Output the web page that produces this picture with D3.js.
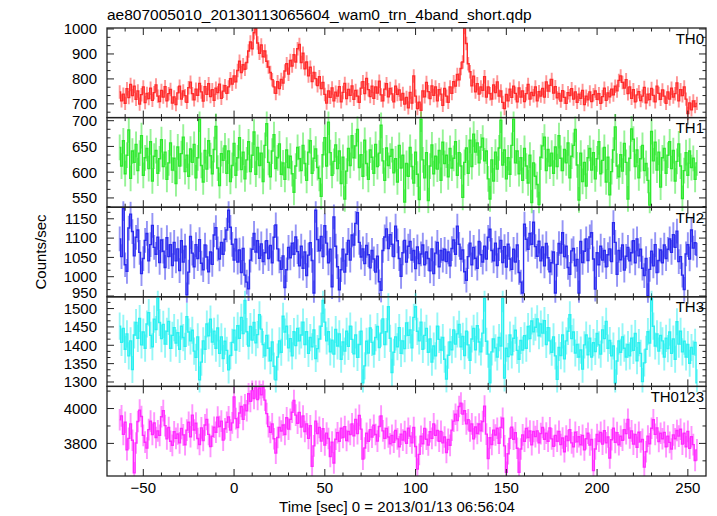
<!DOCTYPE html>
<html><head><meta charset="utf-8">
<script src="https://cdn.jsdelivr.net/npm/d3@7"></script>
<style>body{margin:0;background:#fff}svg{display:block}text{font-family:"Liberation Sans",Arial,Helvetica,sans-serif;fill:#000}</style>
</head><body><svg id="c" width="717" height="516"></svg>
<script>
const title = "ae807005010_20130113065604_wam0_trn_4band_short.qdp";
const xLabel = "Time [sec] 0 = 2013/01/13 06:56:04";
const yLabel = "Counts/sec";
const categories = ["TH0", "TH1", "TH2", "TH3", "TH0123"];
const tStart = -63, binSize = 1;
const xTicks = [-50, 0, 50, 100, 150, 200, 250];
const colors = ["#ff2a2a", "#2ee82e", "#2a2aee", "#2af0f0", "#ff2aff"];
const errHalf = [27, 25, 32, 37, 62];
const yDomains = [[645, 1004], [532, 706], [948, 1180], [1288, 1532], [3613, 4127]];
const yTicks = [[700, 800, 900, 1000], [550, 600, 650, 700], [950, 1000, 1050, 1100, 1150], [1300, 1350, 1400, 1450, 1500], [3800, 4000]];
const yMinorStep = [100/3, 50/3, 50/3, 50/3, 100];

const th0 = [748,712,739,702,761,725,778,733,771,718,
752,699,737,768,705,742,721,763,714,745,
776,731,709,754,727,769,712,741,758,703,
728,697,744,771,719,752,733,706,765,787,
741,716,759,734,782,748,711,769,738,781,
729,757,714,763,745,779,722,751,773,742,
768,801,779,812,788,834,871,826,857,839,
866,912,948,921,985,1001,944,903,936,889,
912,871,848,826,797,768,742,789,761,798,
783,832,861,819,874,852,897,868,921,938,
866,903,841,868,812,847,789,826,801,773,
809,761,786,738,703,752,726,764,712,747,
731,769,708,746,782,721,758,734,772,718,
754,731,706,763,789,741,802,757,729,771,
722,768,743,791,736,712,759,781,728,762,
740,708,771,738,756,715,742,699,726,684,
746,703,812,731,681,707,674,752,728,786,
749,721,772,734,768,712,757,739,694,762,
731,706,768,742,789,771,818,796,842,868,
1006,942,861,829,772,811,748,781,739,768,
754,809,727,768,741,719,776,745,788,731,
752,706,681,738,712,759,726,771,742,708,
764,727,752,709,741,778,719,746,733,768,
712,749,731,762,727,788,751,774,798,743,
769,724,742,711,753,726,702,745,733,761,
719,748,706,739,722,754,697,731,716,748,
709,737,752,718,741,702,729,763,714,744,
728,759,736,771,752,794,812,786,763,797,
741,768,722,757,708,736,749,713,731,766,
704,739,717,762,734,708,771,742,718,756,
731,702,748,719,763,727,741,784,712,757,
733,768,719,661,704,676,712,689,702];

const th1 = [648,612,661,597,633,682,588,641,619,654,
603,637,671,594,628,646,607,659,583,631,
642,598,626,663,611,639,586,618,657,604,
627,578,649,612,636,668,601,633,592,645,
619,654,589,628,703,613,581,642,606,661,
632,597,644,689,608,574,636,623,651,598,
641,582,613,656,594,628,667,605,639,587,
624,659,601,633,678,596,648,613,637,582,
652,694,619,591,641,673,607,628,655,596,
618,586,643,609,631,597,561,612,648,626,
603,652,617,584,639,661,598,627,645,609,
588,553,634,667,612,697,638,594,621,653,
607,641,578,629,548,602,646,613,671,628,
651,683,609,634,592,662,617,586,643,629,
598,654,611,637,691,622,584,647,613,631,
644,599,626,581,652,608,633,542,617,592,
648,611,579,639,596,547,703,624,589,638,
545,612,653,597,631,606,642,584,658,617,
633,591,646,608,627,659,594,638,612,551,
619,647,598,662,611,674,639,657,618,649,
666,622,641,587,548,624,583,639,606,647,
701,614,643,587,628,596,652,703,618,641,
597,628,584,646,612,579,633,541,618,592,
576,537,629,651,668,603,644,612,637,598,
649,611,671,627,603,644,618,657,589,631,
652,683,614,546,637,582,619,573,628,646,
604,638,587,626,659,597,623,648,581,629,
556,601,643,688,612,591,634,602,656,619,
548,627,684,664,611,643,589,626,652,603,
617,584,536,679,622,658,604,639,571,628,
646,598,633,659,607,642,583,621,655,612,
549,603,638,594,641,609,627,586,618];

const th2 = [1098,1052,1176,1031,1014,1126,1162,1117,1054,1102,
1121,1063,1008,1047,1094,1112,1041,1083,1133,1076,
1058,1102,1037,1095,1066,1024,1101,1052,1083,1029,
1089,1041,1072,1016,1093,1038,1079,953,1012,1104,
1061,1026,1083,1047,1096,1035,1018,1082,1051,1013,
1064,1032,1108,1127,1072,1046,1089,1058,1097,1121,
1172,1128,1084,1043,1097,1038,1069,1011,1073,1004,
986,969,1043,1071,1112,1064,1093,1048,1085,1039,
1062,1093,1047,1081,1036,1102,1134,1072,1041,1019,
1054,972,1018,1076,1049,1087,1058,1103,1065,1028,
1079,1022,1064,1003,1056,1088,1042,958,1172,1096,
1067,1104,1052,1132,1087,1036,1071,974,1155,1079,
1026,966,1018,1071,1012,1058,1094,1043,1108,1082,
1138,1166,1089,1051,1072,1034,1081,1057,1023,1068,
1046,1012,1053,987,965,1068,1103,1124,1073,1109,
1084,1052,1131,1093,1047,1001,1062,1094,1038,1079,
1091,1043,1068,1021,1077,1034,1059,1082,1031,1064,
1047,1015,1072,1008,1061,1089,1026,1068,1043,1071,
1039,1064,1028,1073,1095,1058,1131,1084,1046,1069,
1013,991,1052,1087,1031,1076,1048,1022,1091,1057,
1038,1079,1046,1102,1123,1068,1041,1087,1029,1073,
1094,1037,1078,1025,1084,1046,1019,1071,1038,1082,
1011,986,958,1136,1097,1071,1112,1084,1141,1078,
1053,1092,1041,1077,1028,1086,1049,1013,1036,1064,
958,1032,1086,1061,1114,1052,1079,1024,1006,1067,
1073,1028,1045,958,1091,1037,1066,1098,1042,1103,
1114,1046,968,1062,1031,1079,1043,1068,1026,1057,
1072,1039,1140,1089,1006,1068,1044,1082,1017,1053,
1076,1041,1062,1093,1036,1098,1054,1071,1022,1003,
1047,951,1019,1066,1028,1083,1011,1042,1069,1036,
1082,1047,1071,1098,1063,1109,1076,1118,1039,1052,
1004,967,1059,1083,1046,1121,1074,1088,1056];

const th3 = [1452,1408,1446,1389,1431,1371,1412,1334,1428,1462,
1419,1473,1401,1436,1392,1458,1489,1427,1396,1471,
1443,1530,1462,1418,1457,1403,1438,1465,1392,1427,
1448,1406,1434,1389,1452,1421,1397,1478,1436,1412,
1441,1384,1367,1423,1306,1354,1412,1389,1458,1426,
1471,1409,1438,1392,1447,1378,1423,1364,1411,1386,
1333,1372,1408,1441,1387,1453,1419,1476,1432,1522,
1437,1398,1451,1414,1462,1407,1429,1483,1444,1402,
1371,1427,1392,1358,1409,1343,1306,1368,1412,1381,
1479,1436,1452,1393,1418,1371,1437,1399,1446,1412,
1428,1463,1402,1437,1378,1421,1396,1442,1364,1391,
1417,1452,1522,1463,1412,1437,1382,1414,1376,1443,
1398,1431,1362,1409,1384,1438,1397,1452,1416,1377,
1428,1367,1402,1438,1298,1344,1411,1379,1447,1408,
1376,1421,1451,1394,1433,1472,1402,1437,1505,1419,
1326,1381,1423,1396,1448,1378,1412,1391,1461,1427,
1442,1393,1476,1505,1438,1412,1463,1389,1427,1446,
1381,1417,1354,1398,1371,1452,1416,1387,1421,1362,
1308,1373,1409,1388,1442,1403,1431,1457,1396,1424,
1372,1438,1401,1359,1417,1446,1388,1453,1409,1382,
1433,1528,1411,1376,1298,1382,1417,1393,1368,1421,
1398,1527,1311,1392,1369,1428,1374,1419,1441,1386,
1362,1413,1387,1426,1392,1451,1418,1466,1437,1449,
1472,1426,1458,1433,1467,1402,1448,1412,1381,1423,
1371,1307,1394,1372,1428,1363,1412,1438,1483,1418,
1436,1379,1402,1368,1387,1335,1401,1428,1374,1419,
1368,1407,1383,1432,1401,1376,1442,1418,1465,1392,
1413,1371,1398,1298,1357,1412,1381,1423,1392,1368,
1402,1371,1419,1386,1432,1358,1407,1378,1301,1352,
1389,1437,1406,1528,1452,1398,1431,1384,1427,1412,
1368,1419,1391,1436,1378,1417,1362,1464,1403,1438,
1382,1411,1368,1402,1351,1394,1376,1408,1298];

const th0123 = [3936,3958,3852,3921,3764,3829,3912,3818,3631,3802,
3926,3991,3954,3846,3807,3773,3879,3928,3851,3917,
3834,3872,3846,3953,3988,3902,3826,3891,3812,3789,
3867,3829,3854,3803,3886,3849,3792,3876,3921,3838,
3962,3877,3916,3828,3794,3889,3817,3906,3938,3852,
3782,3841,3893,3864,3951,3897,3928,3819,3884,3921,
3952,3876,3918,4066,3942,3891,3974,4012,3938,4021,
3987,4085,4041,4103,4058,4124,4052,4118,4079,4121,
4048,3971,3896,3863,3912,3827,3744,3834,3892,3871,
3906,3851,3947,3882,3938,3979,4046,3962,3916,3978,
3894,3957,3868,3912,3829,3901,3668,3786,3928,3857,
3892,3813,3884,3791,3859,3828,3725,3807,3688,3824,
3861,3812,3887,3834,3896,3817,3869,3851,3912,3843,
3938,3856,3961,3882,3710,3774,3858,3812,3879,3836,
3904,3851,3813,3897,3957,3872,3829,3886,3837,3798,
3846,3807,3874,3826,3781,3853,3819,3868,3801,3887,
3842,3803,3891,3782,3653,3737,3841,3798,3886,3824,
3791,3867,3829,3912,3846,3874,3812,3869,3803,3837,
3748,3823,3789,3876,3928,3967,3931,4012,4031,3968,
3987,3912,3936,3871,3912,3826,3894,3857,3911,3872,
3926,4014,3853,3713,3832,3794,3876,3848,3887,3801,
3892,3944,3786,3634,3741,3829,3893,3824,3861,3772,
3634,3768,3849,3812,3886,3834,3871,3792,3868,3839,
3872,3803,3856,3891,3824,3859,3812,3889,3826,3784,
3846,3812,3869,3793,3831,3752,3842,3816,3879,3803,
3781,3864,3809,3838,3792,3846,3763,3827,3858,3791,
3822,3644,3768,3851,3812,3863,3796,3873,3804,3837,
3716,3821,3887,3806,3862,3792,3841,3818,3879,3856,
3938,3831,3872,3796,3851,3778,3864,3809,3823,3664,
3752,3842,3798,3887,3936,3852,3889,3811,3858,3827,
3863,3781,3842,3806,3768,3849,3827,3874,3842,3881,
3796,3858,3781,3869,3772,3838,3793,3702,3763];

const series = [th0, th1, th2, th3, th0123];

(function () {
  const svg = d3.select("#c");
  const pL = 107, pR = 706, pT = 28, pB = 476;
  const ph = (pB - pT) / categories.length;
  const frameColor = "#222";
  const x = d3.scaleLinear().domain([-70, 260]).range([pL, pR]);

  svg.append("text").attr("x", 107).attr("y", 20).attr("font-size", 15.5).text(title);
  const defs = svg.append("defs");

  categories.forEach((name, k) => {
    const y0 = pT + k * ph, y1 = y0 + ph;
    const y = d3.scaleLinear().domain(yDomains[k]).range([y1, y0]);
    const g = svg.append("g");
    const clipTop = k === 0 ? y0 : y0 - 6;
    const clipBot = k === categories.length - 1 ? y1 : y1 + 6;
    defs.append("clipPath").attr("id", "clip" + k).append("rect")
      .attr("x", pL).attr("y", clipTop).attr("width", pR - pL).attr("height", clipBot - clipTop);
    const data = series[k].map((v, i) => ({t: tStart + i * binSize, v}));
    const dg = g.append("g").attr("clip-path", `url(#clip${k})`);
    dg.selectAll("line.err").data(data).join("line").attr("class", "err")
      .attr("x1", d => x(d.t)).attr("x2", d => x(d.t))
      .attr("y1", d => y(d.v - errHalf[k])).attr("y2", d => y(d.v + errHalf[k]))
      .attr("stroke", colors[k]).attr("stroke-opacity", 0.5).attr("stroke-width", 1.9);
    dg.append("path").datum(data)
      .attr("d", d3.line().x(d => x(d.t)).y(d => y(d.v)).curve(d3.curveStep))
      .attr("fill", "none").attr("stroke", colors[k]).attr("stroke-width", 1.4);

    g.append("rect").attr("x", pL).attr("y", y0).attr("width", pR - pL).attr("height", ph)
      .attr("fill", "none").attr("stroke", frameColor).attr("stroke-width", 1.3);

    const yMinor = d3.range(Math.ceil(yDomains[k][0] / yMinorStep[k] - 1e-6) * yMinorStep[k], yDomains[k][1] + 1e-6, yMinorStep[k]);
    const tg = g.append("g").attr("stroke", frameColor).attr("stroke-width", 1);
    yMinor.forEach(v => {
      const isMajor = yTicks[k].some(t => Math.abs(t - v) < 1e-3);
      const len = isMajor ? 7 : 3.5;
      const yy = y(v);
      if (yy < y0 + 0.5 || yy > y1 - 0.5) return;
      tg.append("line").attr("x1", pL).attr("x2", pL + len).attr("y1", yy).attr("y2", yy);
      tg.append("line").attr("x1", pR).attr("x2", pR - len).attr("y1", yy).attr("y2", yy);
    });
    yTicks[k].forEach(v => {
      const yy = y(v);
      const base = Math.min(yy + 5.4, y1 + 1);
      g.append("text").attr("x", 97).attr("y", base).attr("text-anchor", "end")
        .attr("font-size", 15).text(v);
    });

    d3.range(-70, 261, 10).forEach(t => {
      const isMajor = xTicks.includes(t);
      const len = isMajor ? 7 : 3.5;
      const xx = x(t);
      if (xx <= pL + 0.5 || xx >= pR - 0.5) return;
      tg.append("line").attr("x1", xx).attr("x2", xx).attr("y1", y0).attr("y2", y0 + len);
      tg.append("line").attr("x1", xx).attr("x2", xx).attr("y1", y1).attr("y2", y1 - len);
    });

    g.append("text").attr("x", 704).attr("y", y0 + 15.5).attr("text-anchor", "end")
      .attr("font-size", 15).text(name);
  });

  xTicks.forEach(t => {
    svg.append("text").attr("x", x(t)).attr("y", 493).attr("text-anchor", "middle")
      .attr("font-size", 15).text(t < 0 ? "\u2212" + Math.abs(t) : String(t));
  });
  svg.append("text").attr("x", 397).attr("y", 511.5).attr("text-anchor", "middle")
    .attr("font-size", 15).text(xLabel);
  svg.append("text").attr("transform", "translate(46,252) rotate(-90)").attr("text-anchor", "middle")
    .attr("font-size", 15).text(yLabel);
})();
</script></body></html>
